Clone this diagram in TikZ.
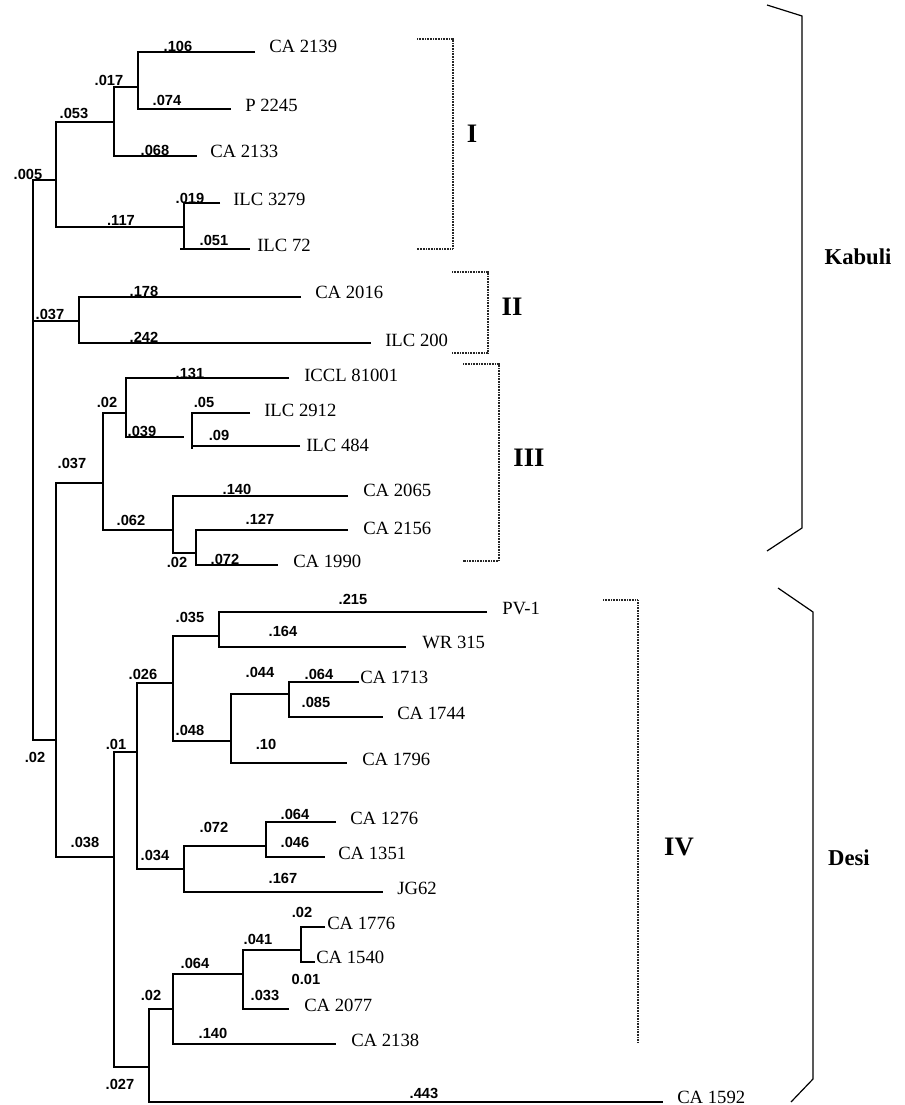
\documentclass[tikz,border=0pt]{standalone}
\usepackage{fontspec}
\setmainfont{Liberation Serif}
\newfontfamily\blabfont{Liberation Sans}
\begin{document}
\begin{tikzpicture}[x=0.75pt,y=-0.75pt]
\tikzset{
 tree/.style={line width=0.9pt},
 leaf/.style={anchor=base west, inner sep=0pt, font=\fontsize{14}{16}\selectfont},
 blab/.style={inner sep=0pt, font=\blabfont\bfseries\fontsize{11}{13}\selectfont},
 clab/.style={inner sep=0pt, font=\bfseries\fontsize{20}{22}\selectfont},
 glab/.style={inner sep=0pt, font=\bfseries\fontsize{17}{19}\selectfont},
 dotbr/.style={line width=1pt, dash pattern=on 0.7pt off 0.5pt, black!85},
 solbr/.style={line width=0.9pt}
}
\useasboundingbox (0,0) rectangle (904,1105);
% ---------- internal joints ----------
\coordinate (r) at (33,321);
\coordinate (jI) at (56,180);
\coordinate (j053) at (114,122);
\coordinate (j017) at (138,87);
\coordinate (j117) at (184,227);
\coordinate (jII) at (79,321);
\coordinate (j02b) at (56,740);
\coordinate (j037b) at (103,483);
\coordinate (j02) at (126,413);
\coordinate (j039) at (184,437);
\coordinate (jx) at (192,449);
\coordinate (j062) at (173,530);
\coordinate (j02c) at (196,553);
\coordinate (jdesi) at (114,857);
\coordinate (j01) at (137,752);
\coordinate (j026) at (173,683);
\coordinate (j035) at (219,636);
\coordinate (j048) at (231,741);
\coordinate (j044) at (289,694);
\coordinate (j034) at (184,869);
\coordinate (j072) at (266,846);
\coordinate (j027) at (149,1067);
\coordinate (j02d) at (173,1009);
\coordinate (j064) at (243,974);
\coordinate (j041) at (301,950);
% ---------- leaf tips ----------
\coordinate (t2139) at (255,52);
\coordinate (t2245) at (231,109);
\coordinate (t2133) at (197,156);
\coordinate (t3279) at (220,203);
\coordinate (t72) at (250,249);
\coordinate (t2016) at (301,297);
\coordinate (t200) at (371,343);
\coordinate (t81001) at (289,378);
\coordinate (t2912) at (250,413);
\coordinate (t484) at (300,446);
\coordinate (t2065) at (348,496);
\coordinate (t2156) at (348,530);
\coordinate (t1990) at (278,565);
\coordinate (tPV) at (487,612);
\coordinate (tWR) at (406,647);
\coordinate (t1713) at (359,682);
\coordinate (t1744) at (383,717);
\coordinate (t1796) at (347,763);
\coordinate (t1276) at (336,822);
\coordinate (t1351) at (325,857);
\coordinate (tJG) at (383,892);
\coordinate (t1776) at (325,927);
\coordinate (t1540) at (315,962);
\coordinate (t2077) at (289,1009);
\coordinate (t2138) at (336,1044);
\coordinate (t1592) at (663,1102);
% ---------- tree ----------
\draw[tree] (jI) -| (r) |- (j02b);
\draw[tree] (jII) -- (r);
\draw[tree] (j053) -| (jI) |- (j117);
\draw[tree] (j017) -| (j053) |- (t2133);
\draw[tree] (t2139) -| (j017) |- (t2245);
\draw[tree] (t3279) -| (j117) |- (t72);
\draw[tree] (j117 |- t72) -- ++(-4,0);
\draw[tree] (t2016) -| (jII) |- (t200);
\draw[tree] (j02) -| (j037b) |- (j062);
\draw[tree] (t81001) -| (j02) |- (j039);
\draw[tree] (t2912) -| (jx);
\draw[tree] (t484) -- (t484 -| jx);
\draw[tree] (t2065) -| (j062) |- (j02c);
\draw[tree] (t2156) -| (j02c) |- (t1990);
\draw[tree] (j037b) -| (j02b) |- (jdesi);
\draw[tree] (j01) -| (jdesi) |- (j027);
\draw[tree] (j026) -| (j01) |- (j034);
\draw[tree] (j035) -| (j026) |- (j048);
\draw[tree] (tPV) -| (j035) |- (tWR);
\draw[tree] (j044) -| (j048) |- (t1796);
\draw[tree] (t1713) -| (j044) |- (t1744);
\draw[tree] (j072) -| (j034) |- (tJG);
\draw[tree] (t1276) -| (j072) |- (t1351);
\draw[tree] (j02d) -| (j027) |- (t1592);
\draw[tree] (j064) -| (j02d) |- (t2138);
\draw[tree] (j041) -| (j064) |- (t2077);
\draw[tree] (t1776) -| (j041) |- (t1540);
% ---------- leaf labels ----------
\node[leaf] (l2139) at (269,53) {CA 2139};
\node[leaf] (l2245) at (245,112) {P 2245};
\node[leaf] (l2133) at (210,158) {CA 2133};
\node[leaf] (l3279) at (233,206) {ILC 3279};
\node[leaf] (l72) at (257,252) {ILC 72};
\node[leaf] (l2016) at (315,299) {CA 2016};
\node[leaf] (l200) at (385,346) {ILC 200};
\node[leaf] (l81001) at (304,381) {ICCL 81001};
\node[leaf] (l2912) at (264,416) {ILC 2912};
\node[leaf] (l484) at (306,451) {ILC 484};
\node[leaf] (l2065) at (363,496) {CA 2065};
\node[leaf] (l2156) at (363,534) {CA 2156};
\node[leaf] (l1990) at (293,567) {CA 1990};
\node[leaf] (lPV) at (502,614) {PV-1};
\node[leaf] (lWR) at (422,648) {WR 315};
\node[leaf] (l1713) at (360,683) {CA 1713};
\node[leaf] (l1744) at (397,719) {CA 1744};
\node[leaf] (l1796) at (362,765) {CA 1796};
\node[leaf] (l1276) at (350,824) {CA 1276};
\node[leaf] (l1351) at (338,859) {CA 1351};
\node[leaf] (lJG) at (397,894) {JG62};
\node[leaf] (l1776) at (327,929) {CA 1776};
\node[leaf] (l1540) at (316,963) {CA 1540};
\node[leaf] (l2077) at (304,1011) {CA 2077};
\node[leaf] (l2138) at (351,1046) {CA 2138};
\node[leaf] (l1592) at (677,1103) {CA 1592};
% ---------- branch labels ----------
\node[blab] (b01) at (178,46) {.106};
\node[blab] (b02) at (109,80) {.017};
\node[blab] (b03) at (167,100) {.074};
\node[blab] (b04) at (74,113) {.053};
\node[blab] (b05) at (155,150) {.068};
\node[blab] (b06) at (28,174) {.005};
\node[blab] (b07) at (190,198) {.019};
\node[blab] (b08) at (121,220) {.117};
\node[blab] (b09) at (214,240) {.051};
\node[blab] (b10) at (144,291) {.178};
\node[blab] (b11) at (50,314) {.037};
\node[blab] (b12) at (144,337) {.242};
\node[blab] (b13) at (190,373) {.131};
\node[blab] (b14) at (107,402) {.02};
\node[blab] (b15) at (204,402) {.05};
\node[blab] (b16) at (142,431) {.039};
\node[blab] (b17) at (219,435) {.09};
\node[blab] (b18) at (72,463) {.037};
\node[blab] (b19) at (237,489) {.140};
\node[blab] (b20) at (131,520) {.062};
\node[blab] (b21) at (260,519) {.127};
\node[blab] (b22) at (177,562) {.02};
\node[blab] (b23) at (225,559) {.072};
\node[blab] (b24) at (353,599) {.215};
\node[blab] (b25) at (190,617) {.035};
\node[blab] (b26) at (283,631) {.164};
\node[blab] (b27) at (143,674) {.026};
\node[blab] (b28) at (260,672) {.044};
\node[blab] (b29) at (319,674) {.064};
\node[blab] (b30) at (316,702) {.085};
\node[blab] (b31) at (190,730) {.048};
\node[blab] (b32) at (266,744) {.10};
\node[blab] (b33) at (116,744) {.01};
\node[blab] (b34) at (35,757) {.02};
\node[blab] (b35) at (295,814) {.064};
\node[blab] (b36) at (214,827) {.072};
\node[blab] (b37) at (85,842) {.038};
\node[blab] (b38) at (295,842) {.046};
\node[blab] (b39) at (155,855) {.034};
\node[blab] (b40) at (283,878) {.167};
\node[blab] (b41) at (302,912) {.02};
\node[blab] (b42) at (258,939) {.041};
\node[blab] (b43) at (195,963) {.064};
\node[blab] (b44) at (306,979) {0.01};
\node[blab] (b45) at (151,995) {.02};
\node[blab] (b46) at (265,995) {.033};
\node[blab] (b47) at (213,1033) {.140};
\node[blab] (b48) at (120,1084) {.027};
\node[blab] (b49) at (424,1093) {.443};
% ---------- cluster brackets ----------
\draw[dotbr] (417,39) -- (453,39) -- (453,249) -- (417,249);
\draw[dotbr] (452,272) -- (488,272) -- (488,353) -- (452,353);
\draw[dotbr] (463,364) -- (499,364) -- (499,561) -- (463,561);
\draw[dotbr] (603,600) -- (638,600) -- (638,1043);
\node[clab] (cI) at (472,134) {I};
\node[clab] (cII) at (512,307) {II};
\node[clab] (cIII) at (529,458) {III};
\node[clab] (cIV) at (679,847) {IV};
% ---------- group brackets ----------
\draw[solbr] (767,5) -- (802,16) -- (802,528) -- (767,551);
\draw[solbr] (778,588) -- (813,612) -- (813,1079) -- (791,1102);
\node[glab] (gK) at (858,257) {Kabuli};
\node[glab] (gD) at (849,858) {Desi};
\end{tikzpicture}
\end{document}
